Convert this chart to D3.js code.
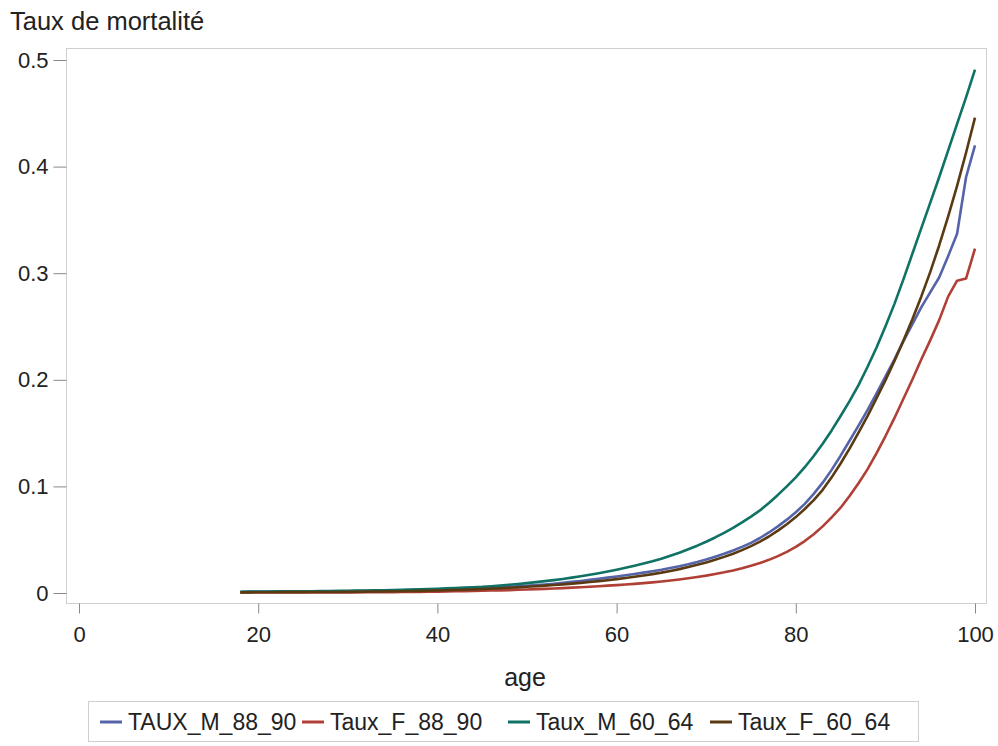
<!DOCTYPE html>
<html>
<head>
<meta charset="utf-8">
<script src="https://cdn.jsdelivr.net/npm/d3@7"></script>
<style>
  html, body { margin: 0; padding: 0; background: #fff; }
  svg { display: block; font-family: "Liberation Sans", Arial, sans-serif; }
</style>
</head>
<body>
<svg id="chart" width="998" height="746"></svg>
<script>
// ---- Data ----
const ages = d3.range(18, 101); // 18..100

const TAUX_M_88_90 = [
  0.0010,0.0011,0.0012,0.0012,0.0013,0.0013,0.0014,0.0014,0.0015,0.0015,
  0.0016,0.0016,0.0017,0.0018,0.0019,0.0020,0.0021,0.0023,0.0025,0.0027,
  0.0029,0.0031,0.0033,0.0036,0.0038,0.0041,0.0044,0.0047,0.0051,0.0055,
  0.0059,0.0063,0.0068,0.0074,0.0080,0.0087,0.0095,0.0104,0.0113,0.0123,
  0.0133,0.0144,0.0155,0.0166,0.0178,0.0191,0.0204,0.0218,0.0234,0.0251,
  0.0270,0.0291,0.0314,0.0340,0.0368,0.0399,0.0433,0.0470,0.0516,0.0568,
  0.0625,0.0688,0.0757,0.0836,0.0930,0.1035,0.1155,0.1288,0.1428,0.1570,
  0.1715,0.1870,0.2030,0.2190,0.2360,0.2520,0.2680,0.2820,0.2960,0.3160,
  0.3370,0.3900,0.4200
];
const Taux_F_88_90 = [
  0.0004,0.0004,0.0004,0.0004,0.0004,0.0004,0.0004,0.0005,0.0005,0.0005,
  0.0005,0.0006,0.0006,0.0006,0.0007,0.0007,0.0008,0.0008,0.0009,0.0010,
  0.0011,0.0012,0.0013,0.0014,0.0016,0.0017,0.0019,0.0021,0.0023,0.0025,
  0.0027,0.0030,0.0033,0.0036,0.0039,0.0042,0.0046,0.0050,0.0054,0.0059,
  0.0064,0.0069,0.0074,0.0080,0.0086,0.0093,0.0100,0.0108,0.0117,0.0127,
  0.0138,0.0150,0.0163,0.0178,0.0194,0.0212,0.0232,0.0255,0.0281,0.0311,
  0.0346,0.0386,0.0432,0.0487,0.0552,0.0625,0.0710,0.0800,0.0910,0.1030,
  0.1160,0.1310,0.1470,0.1640,0.1820,0.2000,0.2190,0.2370,0.2560,0.2780,
  0.2930,0.2950,0.3230
];
const Taux_M_60_64 = [
  0.0012,0.0013,0.0014,0.0014,0.0015,0.0015,0.0016,0.0016,0.0017,0.0018,
  0.0019,0.0020,0.0021,0.0022,0.0023,0.0025,0.0026,0.0028,0.0030,0.0032,
  0.0035,0.0037,0.0040,0.0043,0.0047,0.0050,0.0054,0.0058,0.0064,0.0070,
  0.0077,0.0085,0.0093,0.0102,0.0111,0.0121,0.0132,0.0144,0.0157,0.0171,
  0.0186,0.0202,0.0219,0.0237,0.0256,0.0276,0.0298,0.0322,0.0349,0.0378,
  0.0410,0.0444,0.0481,0.0521,0.0564,0.0611,0.0662,0.0716,0.0775,0.0845,
  0.0920,0.1000,0.1085,0.1180,0.1285,0.1400,0.1525,0.1660,0.1800,0.1950,
  0.2120,0.2300,0.2500,0.2710,0.2940,0.3180,0.3420,0.3660,0.3900,0.4150,
  0.4400,0.4650,0.4910
];
const Taux_F_60_64 = [
  0.0006,0.0006,0.0007,0.0007,0.0007,0.0008,0.0008,0.0008,0.0009,0.0009,
  0.0010,0.0010,0.0011,0.0012,0.0013,0.0014,0.0015,0.0016,0.0017,0.0019,
  0.0020,0.0022,0.0024,0.0026,0.0029,0.0031,0.0034,0.0037,0.0041,0.0045,
  0.0049,0.0053,0.0058,0.0063,0.0069,0.0075,0.0081,0.0088,0.0095,0.0103,
  0.0111,0.0120,0.0130,0.0141,0.0152,0.0164,0.0177,0.0191,0.0207,0.0224,
  0.0243,0.0264,0.0287,0.0312,0.0339,0.0369,0.0402,0.0440,0.0482,0.0530,
  0.0585,0.0645,0.0712,0.0788,0.0872,0.0968,0.1085,0.1215,0.1355,0.1505,
  0.1660,0.1825,0.1995,0.2175,0.2365,0.2565,0.2780,0.3010,0.3260,0.3530,
  0.3820,0.4130,0.4460
];

const seriesNames = ["TAUX_M_88_90", "Taux_F_88_90", "Taux_M_60_64", "Taux_F_60_64"];
const seriesValues = [TAUX_M_88_90, Taux_F_88_90, Taux_M_60_64, Taux_F_60_64];
const seriesColors = ["#5563a8", "#b03f36", "#0f7265", "#5a3a12"];

const xTicks = [0, 20, 40, 60, 80, 100];
const yTicks = [0, 0.1, 0.2, 0.3, 0.4, 0.5];
const yTitle = "Taux de mortalité";
const xTitle = "age";

// ---- Layout ----
const svg = d3.select("#chart");
const frame = { left: 66, right: 986, top: 48, bottom: 603 };
const x = d3.scaleLinear().domain([0, 100]).range([79, 975]);
const y = d3.scaleLinear().domain([0, 0.5]).range([593, 60]);

// frame
svg.append("rect")
  .attr("x", frame.left + 0.5).attr("y", frame.top + 0.5)
  .attr("width", frame.right - frame.left).attr("height", frame.bottom - frame.top)
  .attr("fill", "none").attr("stroke", "#cfcfcf").attr("stroke-width", 1);

// y axis
const yAxis = d3.axisLeft(y).tickValues(yTicks)
  .tickFormat(d => d === 0 ? "0" : d3.format(".1f")(d))
  .tickSize(13).tickPadding(5);
const gy = svg.append("g").attr("transform", `translate(${frame.left + 0.5},0)`).call(yAxis);
gy.select(".domain").remove();
gy.selectAll(".tick line").attr("stroke", "#888");
gy.selectAll(".tick text").attr("font-size", 22).attr("fill", "#222")
  .attr("font-family", "Liberation Sans, Arial, sans-serif");

// x axis
const xAxis = d3.axisBottom(x).tickValues(xTicks).tickSize(10).tickPadding(13);
const gx = svg.append("g").attr("transform", `translate(0,${frame.bottom + 0.5})`).call(xAxis);
gx.select(".domain").remove();
gx.selectAll(".tick line").attr("stroke", "#888");
gx.selectAll(".tick text").attr("font-size", 22).attr("fill", "#222")
  .attr("font-family", "Liberation Sans, Arial, sans-serif");

// titles
svg.append("text").attr("x", 10).attr("y", 30)
  .attr("font-size", 25.5).attr("fill", "#222").text(yTitle);
svg.append("text").attr("x", 525).attr("y", 686).attr("text-anchor", "middle")
  .attr("font-size", 25).attr("fill", "#222").text(xTitle);

// lines
const line = d3.line().x(d => x(d[0])).y(d => y(d[1]));
seriesValues.forEach((vals, i) => {
  const pts = ages.map((a, j) => [a, vals[j]]);
  svg.append("path").datum(pts)
    .attr("d", line)
    .attr("fill", "none")
    .attr("stroke", seriesColors[i])
    .attr("stroke-width", 2.6)
    .attr("stroke-linejoin", "round");
});

// legend
const legend = svg.append("g");
legend.append("rect").attr("x", 88.5).attr("y", 701.5).attr("width", 830).attr("height", 40)
  .attr("fill", "none").attr("stroke", "#cfcfcf");
const legX = [100, 302, 508, 710];
seriesNames.forEach((name, i) => {
  const g = legend.append("g").attr("transform", `translate(${legX[i]},722)`);
  g.append("line").attr("x1", 0).attr("x2", 22).attr("y1", 0).attr("y2", 0)
    .attr("stroke", seriesColors[i]).attr("stroke-width", 3);
  g.append("text").attr("x", 28).attr("y", 8).attr("font-size", 23).attr("fill", "#222").text(name);
});
</script>
</body>
</html>
